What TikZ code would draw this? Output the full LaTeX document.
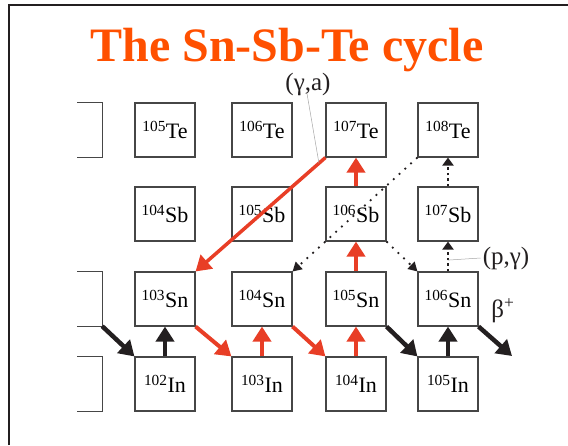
\documentclass[tikz,border=0pt]{standalone}
\usepackage{fontspec}
\setmainfont{Liberation Serif}
\usetikzlibrary{arrows.meta,calc}
\definecolor{titleorange}{RGB}{255,80,0}
\definecolor{flowred}{RGB}{232,62,38}
\definecolor{flowblack}{RGB}{35,31,32}
\definecolor{boxgray}{RGB}{70,70,70}

\newcommand{\nuc}[2]{\textsuperscript{#1}#2}

\begin{document}
\begin{tikzpicture}[x=1pt, y=-1pt,
  nucbox/.style={draw=boxgray, line width=1.1pt, minimum width=60pt,
    minimum height=54pt, inner sep=0pt,
    font=\fontsize{22}{26}\selectfont},
  ghostbox/.style={minimum width=60pt, minimum height=54pt, inner sep=0pt},
  boxline/.style={draw=boxgray, line width=1.1pt},
  redflow/.style={flowred, line width=4pt, -{Triangle[length=15pt, width=18pt]}},
  blackflow/.style={flowblack, line width=4.5pt, -{Triangle[length=15pt, width=18pt]}},
  dotup/.style={flowblack, line width=2.6pt, dash pattern=on 2.6pt off 3pt,
    -{Triangle[length=8pt, width=11pt]}},
  dotdiag/.style={flowblack, line width=1.8pt, dash pattern=on 1.8pt off 6pt,
    -{Triangle[length=9pt, width=10pt]}},
  leader/.style={gray!70, line width=0.5pt},
  reaction/.style={font=\fontsize{25}{28}\selectfont, text=flowblack, inner sep=0pt}]

\useasboundingbox (0,0) rectangle (568,445);

% slide frame
\draw[flowblack, line width=1.5pt] (9,445) -- (9,5) -- (568,5);

% title
\node[anchor=base, text=titleorange, inner sep=0pt,
  font=\fontsize{48}{52}\selectfont\bfseries]
  (title) at (287,61) {The Sn-Sb-Te cycle};

% the chart: columns 165/262/356/448, rows Te/Sb/Sn/In
\node[nucbox] (te105) at (165,130) {\nuc{105}{Te}};
\node[nucbox] (te106) at (262,130) {\nuc{106}{Te}};
\node[nucbox] (te107) at (356,130) {\nuc{107}{Te}};
\node[nucbox] (te108) at (448,130) {\nuc{108}{Te}};

\node[nucbox] (sb104) at (165,214) {\nuc{104}{Sb}};
\node[nucbox] (sb105) at (262,214) {\nuc{105}{Sb}};
\node[nucbox] (sb106) at (356,214) {\nuc{106}{Sb}};
\node[nucbox] (sb107) at (448,214) {\nuc{107}{Sb}};

\node[nucbox] (sn103) at (165,299) {\nuc{103}{Sn}};
\node[nucbox] (sn104) at (262,299) {\nuc{104}{Sn}};
\node[nucbox] (sn105) at (356,299) {\nuc{105}{Sn}};
\node[nucbox] (sn106) at (448,299) {\nuc{106}{Sn}};

\node[nucbox] (in102) at (165,384) {\nuc{102}{In}};
\node[nucbox] (in103) at (262,384) {\nuc{103}{In}};
\node[nucbox] (in104) at (356,384) {\nuc{104}{In}};
\node[nucbox] (in105) at (448,384) {\nuc{105}{In}};

% boxes cut off at the left
\foreach \n/\y in {te104/130, sn102/299, in101/384}{
  \node[ghostbox] (\n) at (72,\y) {};
  \draw[boxline] ([xshift=5pt]\n.north) -- (\n.north east)
    -- (\n.south east) -- ([xshift=5pt]\n.south);
}

% (gamma,a) shortcut
\draw[redflow, line width=3.5pt] (te107.south west) -- (sn103.north east);

% red path of the cycle
\draw[redflow] (sn103.south east) -- (in103.north west);
\draw[redflow] (in103.north) -- (sn104.south);
\draw[redflow] (sn104.south east) -- (in104.north west);
\draw[redflow] (in104.north) -- (sn105.south);
\draw[redflow] (sn105.north) -- (sb106.south);
\draw[redflow] (sb106.north) -- (te107.south);

% black decays and captures
\draw[blackflow] (sn102.south east) -- (in102.north west);
\draw[blackflow] (in102.north) -- (sn103.south);
\draw[blackflow] (sn105.south east) -- (in105.north west);
\draw[blackflow] (in105.north) -- (sn106.south);
\coordinate (betaend) at (512,356);
\draw[blackflow] (sn106.south east) -- (betaend);

% dotted side branches
\draw[dotdiag] (te108.south west) -- (sn104.north east);
\draw[dotdiag] (sb106.south east) -- (sn106.north west);
\draw[dotup] (sn106.north) -- (sb107.south);
\draw[dotup] (sb107.north) -- (te108.south);

% reaction labels
\node[reaction] (ga) at (308,84) {(γ,a)};
\draw[leader] ([xshift=-1pt, yshift=2pt]ga.south) -- ($(te107.south west)!0.05!(sn103.north east)$);

\node[reaction] (pg) at (506,258) {(p,γ)};
\draw[leader] ([xshift=-2pt]pg.west) -- ($(sn106.north)!0.38!(sb107.south)$);

\node[reaction] (beta) at (503,311) {β\textsuperscript{+}};

\end{tikzpicture}
\end{document}
